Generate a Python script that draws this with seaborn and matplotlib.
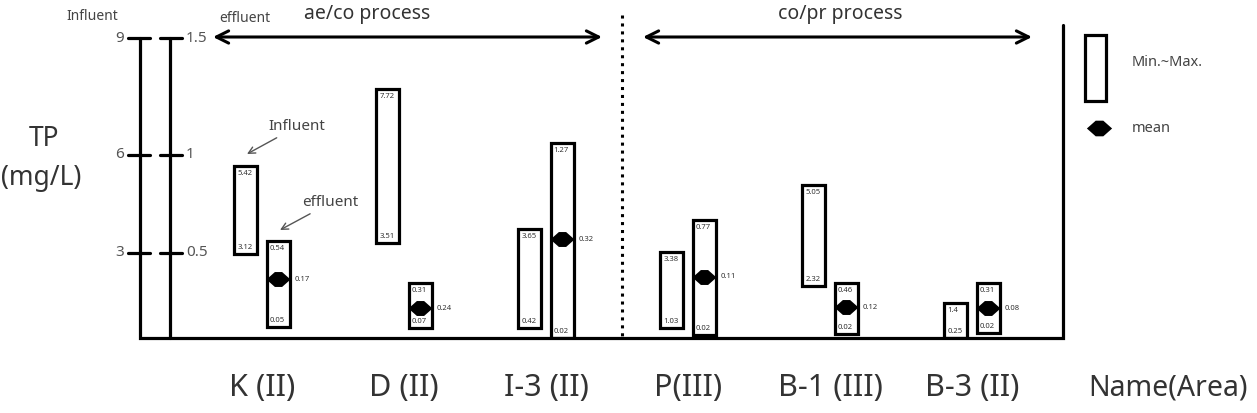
import numpy as np
import pandas as pd
import seaborn as sns
import matplotlib.pyplot as plt
from matplotlib.path import Path
from matplotlib.patches import Rectangle

# sites (name + area)
groups = ["K (II)", "D (II)", "I-3 (II)", "P(III)", "B-1 (III)", "B-3 (II)"]

# influent TP range, mg/L (left scale 0-9)
inf_min = [2.93, 3.28, 0.35, 0.35, 1.81, 0.0]
inf_max = [5.66, 7.69, 3.71, 3.0, 5.07, 1.22]
# effluent TP range, mg/L (right scale 0-1.5)
eff_min = [0.064, 0.058, 0.0, 0.017, 0.023, 0.029]
eff_max = [0.557, 0.32, 1.051, 0.665, 0.32, 0.32]
eff_mean_pos = [0.343, 0.174, 0.567, 0.355, 0.18, 0.174]

# printed labels
inf_top_lbl = ["5.42", "7.72", "3.65", "3.38", "5.05", "1.4"]
inf_bot_lbl = ["3.12", "3.51", "0.42", "1.03", "2.32", "0.25"]
eff_top_lbl = ["0.54", "0.31", "1.27", "0.77", "0.46", "0.31"]
eff_bot_lbl = ["0.05", "0.07", "0.02", "0.02", "0.02", "0.02"]
mean_lbl = ["0.17", "0.24", "0.32", "0.11", "0.12", "0.08"]

inf_ticks = [3, 6, 9]
eff_ticks = [0.5, 1, 1.5]

sns.set_style("white")
plt.rcParams["font.family"] = ["Noto Sans", "DejaVu Sans"]

W, H = 1257, 413
fig = plt.figure(figsize=(W / 100, H / 100), dpi=100)

# piecewise axis (the original is not drawn to a linear scale)
kv = [-1, 0, 0.5, 1, 1.5, 2.5]
kh = [-172, 0, 86, 183, 300, 534]
fwd = lambda v: np.interp(v, kv, kh)
inv = lambda h: np.interp(h, kh, kv)

ax = fig.add_axes([140 / W, 1 - 338 / H, (1063 - 140) / W, 300 / H])
ax.set_yscale("function", functions=(fwd, inv))
for s in ax.spines.values():
    s.set_visible(False)
ax.set_xticks([])
ax.set_yticks([])

df = pd.DataFrame({
    "group": groups,
    "i": np.arange(len(groups)),
    "inf_lo": np.array(inf_min) / 6,
    "inf_hi": np.array(inf_max) / 6,
    "eff_lo": eff_min,
    "eff_hi": eff_max,
    "mean_pos": eff_mean_pos,
})
off, bw = 0.113, 0.162
df["xi"] = df["i"] - off
df["xe"] = df["i"] + off

ax.bar(df["xi"], df["inf_hi"] - df["inf_lo"], bottom=df["inf_lo"], width=bw,
       color="white", edgecolor="black", linewidth=2.3, zorder=2)
ax.bar(df["xe"], df["eff_hi"] - df["eff_lo"], bottom=df["eff_lo"], width=bw,
       color="white", edgecolor="black", linewidth=2.3, zorder=2)

diamond = Path([(-1, 0), (-0.3, 0.62), (0.3, 0.62), (1, 0), (0.3, -0.62),
                (-0.3, -0.62), (-1, 0)])
sns.scatterplot(data=df, x="xe", y="mean_pos", marker=diamond, s=300,
                color="black", edgecolor="black", linewidth=0, zorder=4,
                ax=ax, legend=False)

lbl = dict(fontsize=5.5, color="#333333")
for r, a, b, c, d, m in zip(df.itertuples(), inf_top_lbl, inf_bot_lbl,
                            eff_top_lbl, eff_bot_lbl, mean_lbl):
    ax.annotate(a, (r.xi - bw / 2, r.inf_hi), xytext=(2, -3),
                textcoords="offset points", va="top", **lbl)
    ax.annotate(b, (r.xi - bw / 2, r.inf_lo), xytext=(2, 2),
                textcoords="offset points", va="bottom", **lbl)
    ax.annotate(c, (r.xe - bw / 2, r.eff_hi), xytext=(2, -3),
                textcoords="offset points", va="top", **lbl)
    ax.annotate(d, (r.xe - bw / 2, r.eff_lo), xytext=(2, 2),
                textcoords="offset points", va="bottom", **lbl)
    ax.annotate(m, (r.xe + bw / 2, r.mean_pos), xytext=(4, 0),
                textcoords="offset points", va="center", **lbl)

ax.set_xlim((140 - 262) / 142, (1063 - 262) / 142)
ax.set_ylim(0, 1.5)

# overlay in pixel coordinates for the hand-drawn axes and notes
deco = fig.add_axes([0, 0, 1, 1], zorder=5)
deco.set_xlim(0, W)
deco.set_ylim(H, 0)
deco.axis("off")
deco.patch.set_alpha(0)

lw = 2.3
deco.plot([140, 140, 1063, 1063], [38, 338, 338, 25], color="black", lw=lw,
          solid_joinstyle="miter")
deco.plot([170, 170], [38, 338], color="black", lw=lw)
deco.plot([622, 622], [15, 338], color="black", lw=2.2, ls=(0, (1, 1.6)))

tick_px = [253, 155, 38]
for yp, a, b in zip(tick_px, inf_ticks, eff_ticks):
    deco.plot([128, 150], [yp, yp], color="black", lw=lw)
    deco.plot([160, 182], [yp, yp], color="black", lw=lw)
    deco.text(124, yp, str(a), ha="right", va="center", fontsize=11, color="#555555")
    deco.text(186, yp, f"{b:g}", ha="left", va="center", fontsize=11, color="#555555")

deco.text(92, 17, "Influent", ha="center", va="center", fontsize=10, color="#444444")
deco.text(245, 18, "effluent", ha="center", va="center", fontsize=10, color="#444444")
deco.text(44, 139, "TP", ha="center", va="center", fontsize=19, color="#333333")
deco.text(41, 178, "(mg/L)", ha="center", va="center", fontsize=19, color="#333333")

arrow = dict(arrowstyle="<->", lw=2.2, color="black", mutation_scale=22,
             shrinkA=0, shrinkB=0)
deco.annotate("", xy=(213, 37), xytext=(602, 37), arrowprops=arrow)
deco.annotate("", xy=(643, 37), xytext=(1032, 37), arrowprops=arrow)
deco.text(367, 14, "ae/co process", ha="center", va="center", fontsize=14, color="#333333")
deco.text(840, 14, "co/pr process", ha="center", va="center", fontsize=14, color="#333333")

note = dict(arrowstyle="->", lw=1, color="#555555", mutation_scale=12,
            shrinkA=0, shrinkB=0)
deco.annotate("Influent", xy=(247, 154), xytext=(268, 127), fontsize=11,
              color="#444444", va="center", arrowprops=note)
deco.annotate("effluent", xy=(280, 230), xytext=(302, 203), fontsize=11,
              color="#444444", va="center", arrowprops=note)

# site names under the boxes
for i, g in enumerate(groups):
    x = ax.transData.transform((i, 0))[0] * 100 / fig.dpi
    deco.text(x, 388, g, ha="center", va="center", fontsize=22, color="#333333")
deco.text(1088, 388, "Name(Area)", ha="left", va="center", fontsize=20.5,
          color="#333333")

# legend
deco.add_patch(Rectangle((1085, 35), 21, 66, fill=False, lw=lw, ec="black"))
deco.scatter([1099], [128], marker=diamond, s=330, color="black", lw=0)
deco.text(1132, 63, "Min.~Max.", ha="left", va="center", fontsize=10.5, color="#444444")
deco.text(1132, 128, "mean", ha="left", va="center", fontsize=10.5, color="#444444")

fig.savefig("out.png", dpi=100)
